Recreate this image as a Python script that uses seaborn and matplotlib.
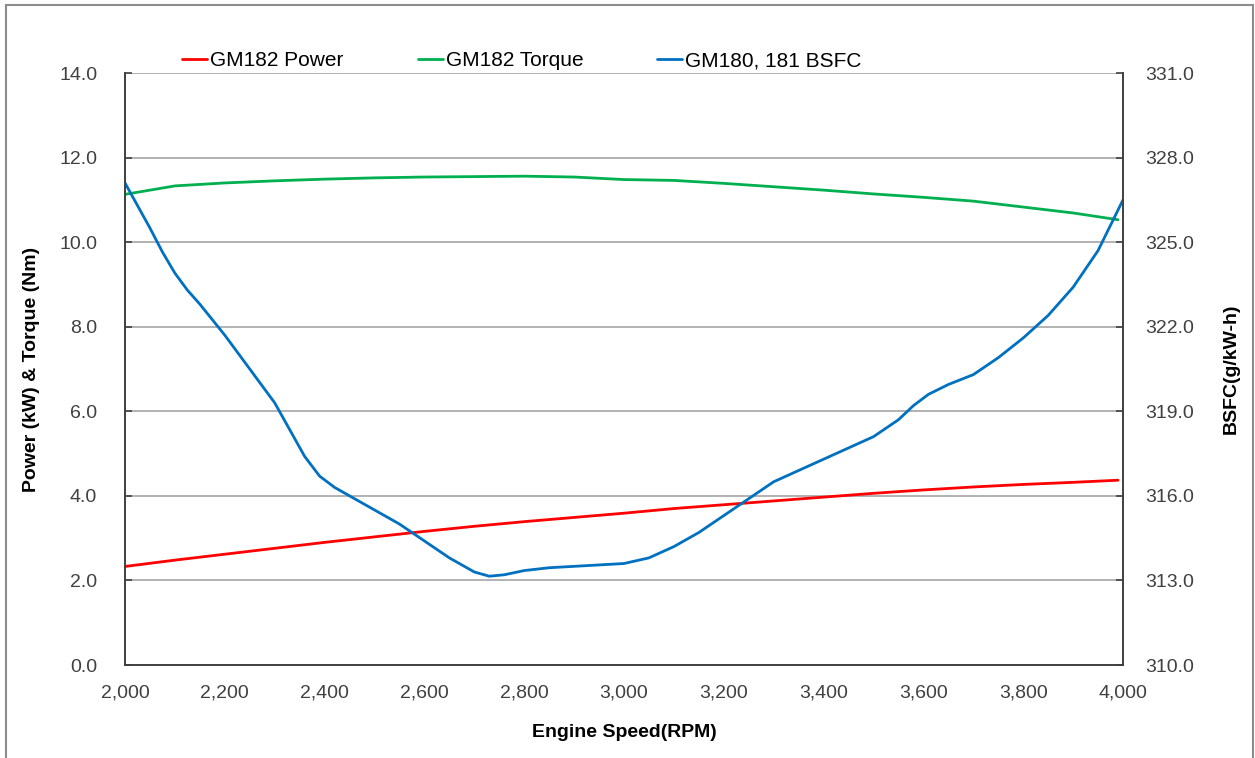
import matplotlib
matplotlib.use("Agg")
import matplotlib.pyplot as plt
from matplotlib.patches import Rectangle
from matplotlib.ticker import FuncFormatter
import seaborn as sns
import pandas as pd

# Engine speed sweep (RPM)
rpm_power_torque = [2000, 2100, 2200, 2300, 2400, 2500, 2600, 2700, 2800, 2900,
                    3000, 3100, 3200, 3300, 3400, 3500, 3600, 3700, 3800, 3900, 3990]
power_kw = [2.33, 2.48, 2.62, 2.76, 2.90, 3.03, 3.16, 3.28, 3.39, 3.49,
            3.59, 3.70, 3.79, 3.88, 3.97, 4.06, 4.14, 4.21, 4.27, 4.32, 4.37]
torque_nm = [11.13, 11.33, 11.40, 11.45, 11.49, 11.52, 11.54, 11.55, 11.56, 11.54,
             11.48, 11.46, 11.39, 11.31, 11.23, 11.14, 11.06, 10.97, 10.83, 10.69, 10.53]

rpm_bsfc = [2000, 2050, 2075, 2100, 2125, 2150, 2200, 2250, 2300, 2330, 2360, 2390, 2420,
            2460, 2500, 2550, 2600, 2650, 2700, 2730, 2760, 2800, 2850, 2900,
            2950, 3000, 3050, 3100, 3150, 3200, 3250, 3300, 3350, 3400, 3450,
            3500, 3550, 3580, 3610, 3650, 3700, 3750, 3800, 3850, 3900, 3950, 4000]
bsfc = [327.1, 325.5, 324.65, 323.9, 323.3, 322.8, 321.7, 320.5, 319.3, 318.35, 317.4, 316.7, 316.3,
        315.9, 315.5, 315.0, 314.4, 313.8, 313.3, 313.15, 313.2, 313.35, 313.45, 313.5,
        313.55, 313.6, 313.8, 314.2, 314.7, 315.3, 315.9, 316.5, 316.9, 317.3, 317.7,
        318.1, 318.7, 319.2, 319.6, 319.95, 320.3, 320.9, 321.6, 322.4, 323.4, 324.7, 326.5]

df_pt = pd.DataFrame({"rpm": rpm_power_torque, "power": power_kw, "torque": torque_nm})
df_b = pd.DataFrame({"rpm": rpm_bsfc, "bsfc": bsfc})

left_ticks = [0, 2, 4, 6, 8, 10, 12, 14]
right_ticks = [310, 313, 316, 319, 322, 325, 328, 331]
x_ticks = list(range(2000, 4001, 200))

sns.set_theme(style="white")
plt.rcParams["font.family"] = ["Liberation Sans", "DejaVu Sans"]

fig = plt.figure(figsize=(12.55, 7.58), dpi=100)
fig.patch.set_facecolor("white")
ax = fig.add_axes([125 / 1255, 1 - 665 / 758, (1123 - 125) / 1255, (665 - 73) / 758])
ax2 = ax.twinx()

red, green, blue = "#ff0000", "#00b050", "#0070c0"
sns.lineplot(data=df_pt, x="rpm", y="power", ax=ax, color=red, lw=2, label="GM182 Power", legend=False)
sns.lineplot(data=df_pt, x="rpm", y="torque", ax=ax, color=green, lw=2, label="GM182 Torque", legend=False)
sns.lineplot(data=df_b, x="rpm", y="bsfc", ax=ax2, color=blue, lw=2, label="GM180, 181 BSFC", legend=False)

ax.set_xlim(2000, 4000)
ax.set_ylim(0, 14)
ax2.set_ylim(310, 331)
ax.set_xticks(x_ticks)
ax.set_yticks(left_ticks)
ax2.set_yticks(right_ticks)
ax.xaxis.set_major_formatter(FuncFormatter(lambda v, p: f"{v:,.0f}"))
ax.yaxis.set_major_formatter(FuncFormatter(lambda v, p: f"{v:.1f}"))
ax2.yaxis.set_major_formatter(FuncFormatter(lambda v, p: f"{v:.1f}"))

ax.grid(axis="y", color="#a6a6a6", lw=1.2)
ax.grid(axis="x", visible=False)
ax2.grid(False)
ax.set_axisbelow(True)

for a in (ax, ax2):
    for s in a.spines.values():
        s.set_color("#404040")
        s.set_linewidth(1.2)
    a.spines["top"].set_visible(False)

label_color = "#404040"
ax.tick_params(axis="y", direction="in", length=5, width=1.2, color="#404040",
               labelsize=14, labelcolor=label_color, pad=20)
ax2.tick_params(axis="y", direction="in", length=5, width=1.2, color="#404040",
                labelsize=14, labelcolor=label_color, pad=16)
ax.tick_params(axis="x", length=0, labelsize=14, labelcolor=label_color, pad=14)

ax.set_xlabel("Engine Speed(RPM)", fontsize=14, fontweight="bold", color="black", labelpad=16)
ax.set_ylabel("Power (kW) & Torque (Nm)", fontsize=14, fontweight="bold", color="black")
ax2.set_ylabel("BSFC(g/kW-h)", fontsize=14, fontweight="bold", color="black", rotation=90)
ax.yaxis.set_label_coords(-0.085, 0.5)
ax2.yaxis.set_label_coords(1.100, 0.5)

handles = ax.get_lines()[:2] + ax2.get_lines()[:1]
labels = ["GM182 Power", "GM182 Torque", "GM180, 181 BSFC"]
fig.legend(handles, labels, loc="center", bbox_to_anchor=(522 / 1255, 1 - 61 / 758), ncol=3,
           frameon=False, fontsize=15, handlelength=1.2, handletextpad=0.15,
           columnspacing=3.55, labelcolor="black")

# chart-area border
fig.patches.append(Rectangle((6 / 1255, -0.01), (1253 - 6) / 1255, 1 - 5 / 758 + 0.01,
                             transform=fig.transFigure, fill=False, edgecolor="#8c8c8c",
                             lw=1.5, zorder=10))

fig.savefig("out.png", dpi=100)
